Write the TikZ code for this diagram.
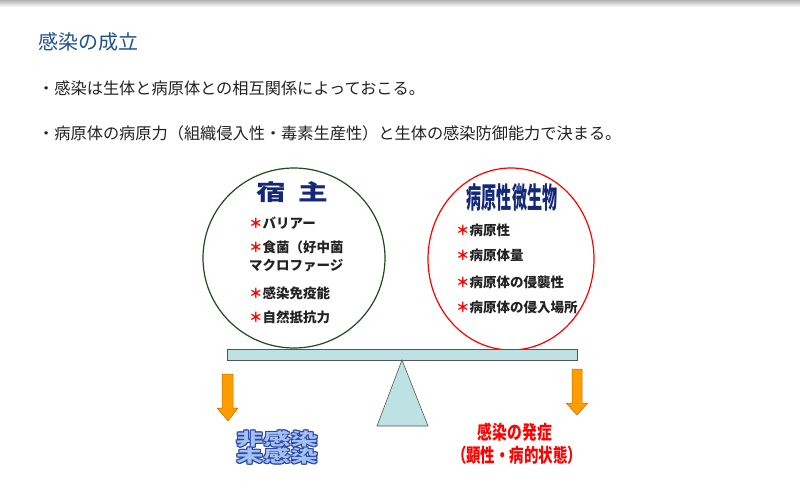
\documentclass[tikz,border=0pt]{standalone}
\usepackage{fontspec}
\usepackage{graphicx}
\setmainfont{Noto Sans CJK JP}
\usetikzlibrary{positioning}
\definecolor{titleblue}{HTML}{1F4F8F}
\definecolor{hostgreen}{HTML}{1F4A1F}
\definecolor{beamfill}{HTML}{BEE2E4}
\definecolor{beamedge}{HTML}{555555}
\definecolor{arroworange}{HTML}{FF9C00}
\definecolor{arrowedge}{HTML}{B86E00}
\definecolor{namenavy}{HTML}{14287A}
\definecolor{wordblue}{HTML}{A3C2EE}
\definecolor{wordedge}{HTML}{2A44A8}
\definecolor{textgray}{HTML}{222222}
\newcommand{\redstar}{\textcolor{red}{＊}}
\tikzset{
  item/.style={anchor=west, inner sep=0pt, textgray,
    font=\fontsize{13.5}{14}\selectfont\bfseries},
  bullet/.style={anchor=west, inner sep=0pt, textgray,
    font=\fontsize{16.2}{17}\selectfont},
  wordart/.style={inner sep=0pt, font=\fontsize{17}{17}\selectfont\bfseries},
  onset/.style={inner sep=0pt, red, font=\fontsize{19}{19}\selectfont\bfseries},
  downarrow/.style={fill=arroworange, draw=arrowedge, line width=0.5pt}
}
\begin{document}
\begin{tikzpicture}[x=1pt,y=-1pt]
\useasboundingbox (0,0) rectangle (800,500);
% Top shadow
\shade[top color=black!30, bottom color=white] (0,0) rectangle (800,7);
% Heading and bullets
\node[anchor=west, inner sep=0pt, titleblue, font=\fontsize{20}{20}\selectfont] (title) at (38,42) {感染の成立};
\node[bullet] (lineA) at (38,88) {・感染は生体と病原体との相互関係によっておこる。};
\node[bullet] (lineB) at (38,133) {・病原体の病原力（組織侵入性・毒素生産性）と生体の感染防御能力で決まる。};
% Host and microbe circles
\draw[hostgreen, line width=1.2pt] (294,258) ellipse [x radius=91pt, y radius=90pt];
\draw[red, line width=1.2pt] (511,259) ellipse [x radius=83pt, y radius=91pt];
% Host side
\node[inner sep=0pt, namenavy, font=\fontsize{22}{22}\selectfont\bfseries] (host) at (292,192) {\scalebox{1.35}[1]{宿\hspace{0.42em}主}};
\node[item] (hostA) at (249,223) {\redstar バリアー};
\node[item] (hostB) at (249,247) {\redstar 食菌（好中菌};
\node[item] (hostC) at (249,266) {マクロファージ};
\node[item] (hostD) at (249,293) {\redstar 感染免疫能};
\node[item] (hostE) at (249,317) {\redstar 自然抵抗力};
% Microbe side
\node[inner sep=0pt, namenavy, font=\fontsize{29}{29}\selectfont\bfseries] (microbe) at (512,197) {\scalebox{0.52}[1]{病原性微生物}};
\node[item] (microbeA) at (456,230) {\redstar 病原性};
\node[item] (microbeB) at (456,255) {\redstar 病原体量};
\node[item] (microbeC) at (456,282) {\redstar 病原体の侵襲性};
\node[item] (microbeD) at (456,307) {\redstar 病原体の侵入場所};
% Balance beam and fulcrum
\filldraw[fill=beamfill, draw=beamedge, line width=0.6pt] (227,349) rectangle (577,360);
\filldraw[fill=beamfill, draw=beamedge, line width=0.6pt] (402,360) -- (428,426) -- (377,426) -- cycle;
% Orange arrows
\filldraw[downarrow] (222,374) -- (233,374) -- (233,408) -- (238,408) -- (228,421) -- (217,408) -- (222,408) -- cycle;
\filldraw[downarrow] (572,369) -- (582,369) -- (582,403) -- (588,403) -- (577,415) -- (566,403) -- (572,403) -- cycle;
% Outcomes
\foreach \dx/\dy [count=\i] in {-1/0,1/0,0/-1,0/1,-1/-1,1/1,-1/1,1/-1}{
  \node[wordart, wordedge] (edgeA\i) at (277+\dx,439+\dy) {\scalebox{1.6}[1]{非感染}};
  \node[wordart, wordedge] (edgeB\i) at (277+\dx,456+\dy) {\scalebox{1.6}[1]{未感染}};
}
\node[wordart, wordblue] (noneA) at (277,439) {\scalebox{1.6}[1]{非感染}};
\node[wordart, wordblue] (noneB) at (277,456) {\scalebox{1.6}[1]{未感染}};
\node[onset] (onsetA) at (515,432) {\scalebox{0.78}[1]{感染の発症}};
\node[onset] (onsetB) at (517,455) {\scalebox{0.76}[1]{（顕性・病的状態）}};
\end{tikzpicture}
\end{document}
